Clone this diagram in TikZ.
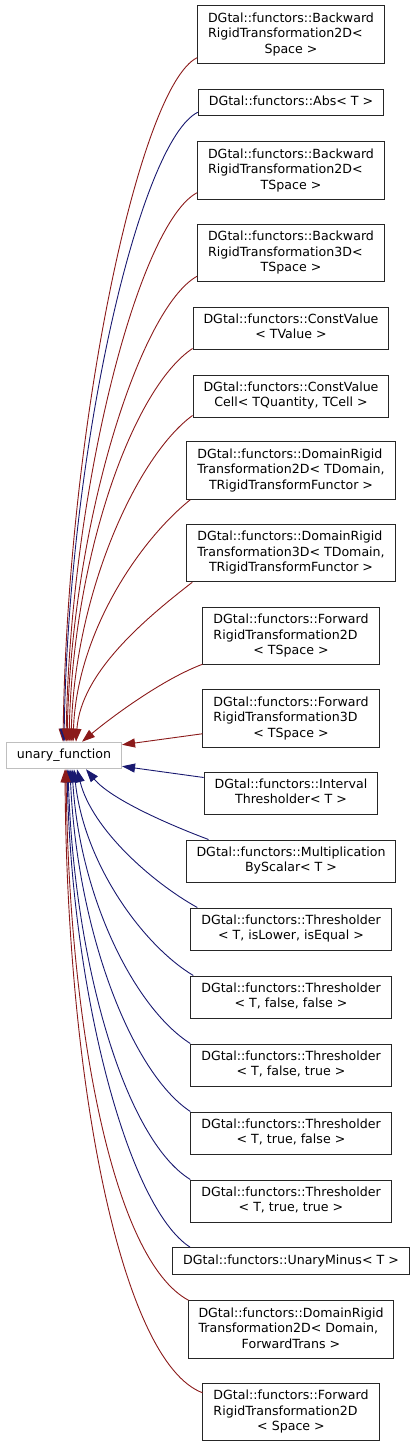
\documentclass[tikz,border=0pt]{standalone}
\usepackage{fontspec}
\setmainfont{DejaVu Sans}
\usetikzlibrary{arrows.meta}

\definecolor{inhRed}{HTML}{8B1A1A}
\definecolor{inhBlue}{HTML}{191970}

% class label: all lines left aligned, the last one centred
\newcommand{\clsText}[2]{\begin{tabular}{@{}l@{}}#1\\\multicolumn{1}{@{}c@{}}{#2}\end{tabular}}
\newcommand{\clsLine}[1]{\begin{tabular}{@{}c@{}}#1\end{tabular}}

\tikzset{
  cls/.style={draw=black!85, line width=1pt, fill=white, inner xsep=10.5pt, inner ysep=5.5pt,
    font=\fontsize{12.6}{15.5}\selectfont},
  baseCls/.style={cls, draw=black!25},
  redge/.style={draw=inhRed, line width=0.9pt, -{Triangle[length=13pt,width=9pt]}},
  bedge/.style={redge, draw=inhBlue},
}

\begin{document}
\begin{tikzpicture}[x=1pt,y=-1pt]
\useasboundingbox (0,0) rectangle (416,1447);

\def\colX{291}

\node[baseCls] (unaryFn) at (64,755.5) {\clsLine{unary\_function}};

\node[cls] (bwdSpace) at (\colX,34.5) {\clsText{DGtal::functors::Backward\\RigidTransformation2D<}{Space >}};
\node[cls] (absT) at (\colX,102.5) {\clsLine{DGtal::functors::Abs< T >}};
\node[cls] (bwdTSpace) at (\colX,170.5) {\clsText{DGtal::functors::Backward\\RigidTransformation2D<}{TSpace >}};
\node[cls] (bwd3DTSpace) at (\colX,253) {\clsText{DGtal::functors::Backward\\RigidTransformation3D<}{TSpace >}};
\node[cls] (constValue) at (\colX,328) {\clsText{DGtal::functors::ConstValue}{< TValue >}};
\node[cls] (constValueCell) at (\colX,396) {\clsText{DGtal::functors::ConstValue}{Cell< TQuantity, TCell >}};
\node[cls] (domain2D) at (\colX,470.5) {\clsText{DGtal::functors::DomainRigid\\Transformation2D< TDomain,}{TRigidTransformFunctor >}};
\node[cls] (domain3D) at (\colX,553) {\clsText{DGtal::functors::DomainRigid\\Transformation3D< TDomain,}{TRigidTransformFunctor >}};
\node[cls] (fwd2D) at (\colX,636) {\clsText{DGtal::functors::Forward\\RigidTransformation2D}{< TSpace >}};
\node[cls] (fwd3D) at (\colX,718.5) {\clsText{DGtal::functors::Forward\\RigidTransformation3D}{< TSpace >}};
\node[cls] (intervalThr) at (\colX,793) {\clsText{DGtal::functors::Interval}{Thresholder< T >}};
\node[cls] (multScalar) at (\colX,861) {\clsText{DGtal::functors::Multiplication}{ByScalar< T >}};
\node[cls] (thr) at (\colX,929) {\clsText{DGtal::functors::Thresholder}{< T, isLower, isEqual >}};
\node[cls] (thrFF) at (\colX,997) {\clsText{DGtal::functors::Thresholder}{< T, false, false >}};
\node[cls] (thrFT) at (\colX,1065) {\clsText{DGtal::functors::Thresholder}{< T, false, true >}};
\node[cls] (thrTF) at (\colX,1133) {\clsText{DGtal::functors::Thresholder}{< T, true, false >}};
\node[cls] (thrTT) at (\colX,1201) {\clsText{DGtal::functors::Thresholder}{< T, true, true >}};
\node[cls] (unaryMinus) at (\colX,1261) {\clsLine{DGtal::functors::UnaryMinus< T >}};
\node[cls] (domain2DFwd) at (\colX,1329.5) {\clsText{DGtal::functors::DomainRigid\\Transformation2D< Domain,}{ForwardTrans >}};
\node[cls] (fwdSpace) at (\colX,1412) {\clsText{DGtal::functors::Forward\\RigidTransformation2D}{< Space >}};

% edges into the top of unary_function
\draw[redge] ([yshift=6pt]bwdSpace.south west) .. controls +(-57,28) and +(5,-322) .. ([xshift=-1pt]unaryFn.north);
\draw[bedge] ([yshift=4pt]absT.south west) .. controls +(-57,28) and +(5,-300) .. (unaryFn.north);
\draw[redge] ([yshift=7pt]bwdTSpace.south west) .. controls +(-57,30) and +(5,-260) .. ([xshift=2pt]unaryFn.north);
\draw[redge] ([yshift=6pt]bwd3DTSpace.south west) .. controls +(-57,32) and +(5,-220) .. ([xshift=3pt]unaryFn.north);
\draw[redge] ([yshift=1pt]constValue.south west) .. controls +(-60,40) and +(4,-185) .. ([xshift=5pt]unaryFn.north);
\draw[redge] ([yshift=2pt]constValueCell.south west) .. controls +(-55,40) and +(4,-150) .. ([xshift=7pt]unaryFn.north);
\draw[redge] ([xshift=4pt]domain2D.south west) .. controls +(-50,40) and +(4,-110) .. ([xshift=9pt]unaryFn.north);
\draw[redge] ([xshift=6pt]domain3D.south west) .. controls +(-45,35) and +(5,-70) .. ([xshift=12pt]unaryFn.north);
\draw[redge] ([yshift=1pt]fwd2D.south west) .. controls +(-40,15) and +(30,-25) .. ([xshift=18pt]unaryFn.north);

% edges into the side
\draw[redge] ([yshift=14pt]fwd3D.south west) -- ([yshift=-3pt]unaryFn.north east);
\draw[bedge] ([yshift=-6pt]intervalThr.north west) -- ([yshift=3pt]unaryFn.south east);

% edges into the bottom
\draw[bedge] ([xshift=23pt]multScalar.north west) .. controls +(-40,-15) and +(25,30) .. ([xshift=22pt]unaryFn.south);
\draw[bedge] ([xshift=7pt]thr.north west) .. controls +(-45,-25) and +(15,60) .. ([xshift=13pt]unaryFn.south);
\draw[bedge] ([xshift=3pt]thrFF.north west) .. controls +(-50,-30) and +(10,95) .. ([xshift=10pt]unaryFn.south);
\draw[bedge] (thrFT.north west) .. controls +(-55,-35) and +(8,130) .. ([xshift=8pt]unaryFn.south);
\draw[bedge] (thrTF.north west) .. controls +(-60,-40) and +(7,160) .. ([xshift=6pt]unaryFn.south);
\draw[bedge] (thrTT.north west) .. controls +(-65,-40) and +(6,195) .. ([xshift=4pt]unaryFn.south);
\draw[bedge] ([xshift=18pt]unaryMinus.north west) .. controls +(-62,-40) and +(5,225) .. ([xshift=3pt]unaryFn.south);
\draw[redge] ([xshift=1pt]domain2DFwd.north west) .. controls +(-75,-40) and +(3,260) .. ([xshift=2pt]unaryFn.south);
\draw[redge] ([yshift=-10pt]fwdSpace.north west) .. controls +(-80,-30) and +(2,320) .. ([xshift=1pt]unaryFn.south);

\end{tikzpicture}
\end{document}
